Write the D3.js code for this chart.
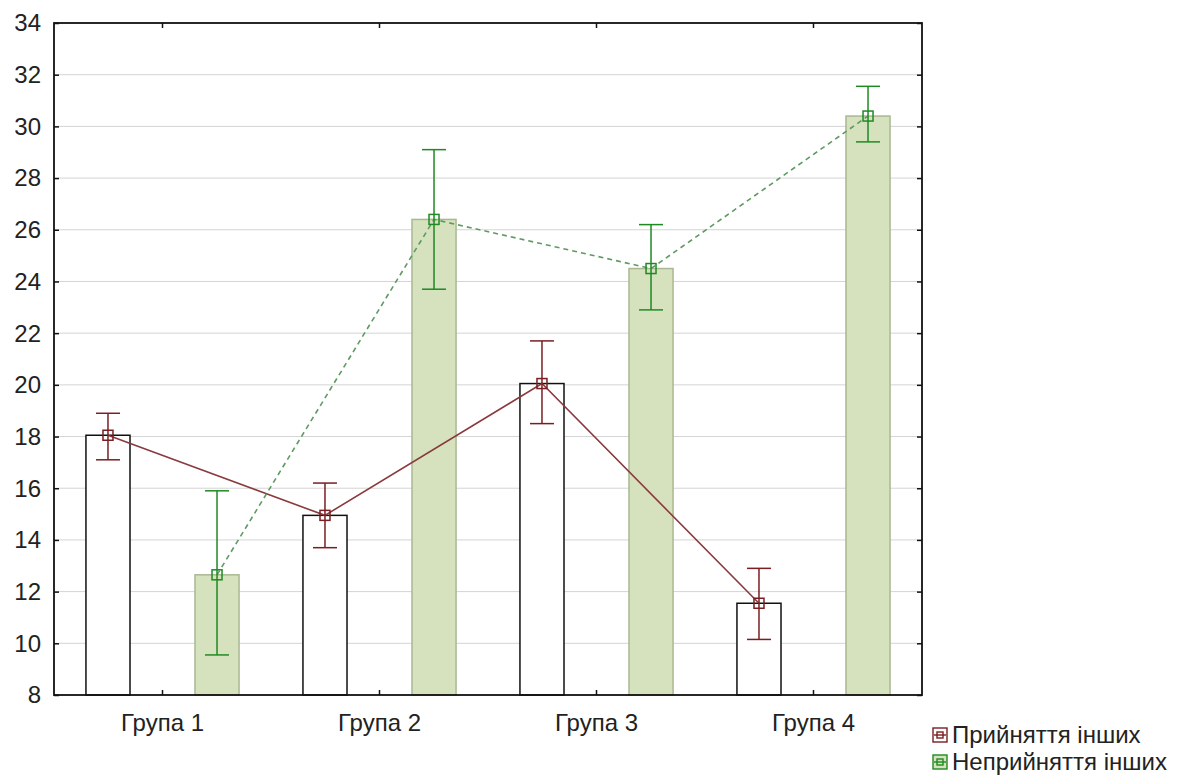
<!DOCTYPE html>
<html>
<head>
<meta charset="utf-8">
<script src="https://cdn.jsdelivr.net/npm/d3@7"></script>
<style>
  body { margin: 0; background: #fff; }
  svg { font-family: "Liberation Sans", Arial, sans-serif; }
</style>
</head>
<body>
<div id="chart"></div>
<script>
// data
const groups = ["Група 1", "Група 2", "Група 3", "Група 4"];
const seriesNames = ["Прийняття інших", "Неприйняття інших"];
const acceptMean = [18.05, 14.95, 20.05, 11.55];
const acceptHigh = [18.9, 16.2, 21.7, 12.9];
const acceptLow = [17.1, 13.7, 18.5, 10.15];
const rejectMean = [12.65, 26.4, 24.5, 30.4];
const rejectHigh = [15.9, 29.1, 26.2, 31.55];
const rejectLow = [9.55, 23.7, 22.9, 29.4];
const yTicks = [8, 10, 12, 14, 16, 18, 20, 22, 24, 26, 28, 30, 32, 34];

const W = 1196, H = 779;
const plot = { left: 54, top: 23, right: 922, bottom: 695 };

const svg = d3.select("#chart").append("svg")
  .attr("width", W).attr("height", H);

const x = d3.scaleBand().domain(groups).range([plot.left, plot.right]).padding(0);
const xi = d3.scaleBand().domain(seriesNames).range([0, x.bandwidth()])
  .paddingInner(0.596).paddingOuter(0.293);
const y = d3.scaleLinear().domain([8, 34]).range([plot.bottom, plot.top]);

const series = [
  { name: seriesNames[0], mean: acceptMean, hi: acceptHigh, lo: acceptLow,
    fill: "#ffffff", barStroke: "#111", line: "#8a3a3e", err: "#7a1e22", dash: null },
  { name: seriesNames[1], mean: rejectMean, hi: rejectHigh, lo: rejectLow,
    fill: "#d5e2bd", barStroke: "#a9b893", line: "#5e9a62", err: "#1f8a22", dash: "5 4" }
];

// gridlines
svg.append("g").selectAll("line")
  .data(yTicks.slice(1, -1))
  .join("line")
  .attr("x1", plot.left).attr("x2", plot.right)
  .attr("y1", d => y(d)).attr("y2", d => y(d))
  .attr("stroke", "#d4d4d4").attr("stroke-width", 1);

// bars
series.forEach(s => {
  svg.append("g").selectAll("rect")
    .data(groups)
    .join("rect")
    .attr("x", g => x(g) + xi(s.name))
    .attr("y", (g, i) => y(s.mean[i]))
    .attr("width", xi.bandwidth())
    .attr("height", (g, i) => y(8) - y(s.mean[i]))
    .attr("fill", s.fill)
    .attr("stroke", s.barStroke)
    .attr("stroke-width", 1.5);
});

const cx = (s, g) => x(g) + xi(s.name) + xi.bandwidth() / 2;

// lines through the means
series.forEach(s => {
  const line = d3.line()
    .x((d, i) => cx(s, groups[i]))
    .y(d => y(d));
  svg.append("path")
    .datum(s.mean)
    .attr("fill", "none")
    .attr("stroke", s.line)
    .attr("stroke-width", 1.6)
    .attr("stroke-dasharray", s.dash)
    .attr("d", line);
});

// error bars + markers
series.forEach(s => {
  const g = svg.append("g").attr("stroke", s.err).attr("stroke-width", 1.5).attr("fill", "none");
  groups.forEach((grp, i) => {
    const c = cx(s, grp);
    g.append("line").attr("x1", c).attr("x2", c).attr("y1", y(s.hi[i])).attr("y2", y(s.lo[i]));
    g.append("line").attr("x1", c - 12).attr("x2", c + 12).attr("y1", y(s.hi[i])).attr("y2", y(s.hi[i]));
    g.append("line").attr("x1", c - 12).attr("x2", c + 12).attr("y1", y(s.lo[i])).attr("y2", y(s.lo[i]));
    g.append("rect").attr("x", c - 5).attr("y", y(s.mean[i]) - 5)
      .attr("width", 10).attr("height", 10);
  });
});

// frame
svg.append("rect")
  .attr("x", plot.left).attr("y", plot.top)
  .attr("width", plot.right - plot.left).attr("height", plot.bottom - plot.top)
  .attr("fill", "none").attr("stroke", "#111").attr("stroke-width", 1.8);

// axes (inward ticks)
const yAxisL = svg.append("g")
  .attr("transform", `translate(${plot.left},0)`)
  .call(d3.axisRight(y).tickValues(yTicks).tickSize(5).tickFormat(""));
const yAxisR = svg.append("g")
  .attr("transform", `translate(${plot.right},0)`)
  .call(d3.axisLeft(y).tickValues(yTicks).tickSize(5).tickFormat(""));
const xAxisB = svg.append("g")
  .attr("transform", `translate(0,${plot.bottom})`)
  .call(d3.axisTop(x).tickSize(5).tickFormat(""));
const xAxisT = svg.append("g")
  .attr("transform", `translate(0,${plot.top})`)
  .call(d3.axisBottom(x).tickSize(5).tickFormat(""));
[yAxisL, yAxisR, xAxisB, xAxisT].forEach(a => {
  a.select(".domain").remove();
  a.selectAll("line").attr("stroke", "#111").attr("stroke-width", 1.5);
});

// tick labels
svg.append("g").selectAll("text")
  .data(yTicks)
  .join("text")
  .attr("x", plot.left - 13)
  .attr("y", d => y(d))
  .attr("dy", "0.35em")
  .attr("text-anchor", "end")
  .attr("font-size", 24)
  .attr("fill", "#222")
  .text(d => d);

svg.append("g").selectAll("text")
  .data(groups)
  .join("text")
  .attr("x", d => x(d) + x.bandwidth() / 2)
  .attr("y", plot.bottom + 36)
  .attr("text-anchor", "middle")
  .attr("font-size", 24)
  .attr("fill", "#222")
  .text(d => d);

// legend
const legend = svg.append("g").attr("transform", "translate(933,728)");
series.forEach((s, i) => {
  const row = legend.append("g").attr("transform", `translate(0,${i * 27})`);
  row.append("rect").attr("x", 0).attr("y", 0).attr("width", 14).attr("height", 14)
    .attr("fill", s.fill).attr("stroke", s.err).attr("stroke-width", 1.4);
  row.append("line").attr("x1", 1).attr("x2", 13).attr("y1", 7).attr("y2", 7)
    .attr("stroke", s.err).attr("stroke-width", 1.4);
  row.append("rect").attr("x", 4).attr("y", 4).attr("width", 6).attr("height", 6)
    .attr("fill", "none").attr("stroke", s.err).attr("stroke-width", 1.4);
  row.append("text").attr("x", 19).attr("y", 15)
    .attr("font-size", 24).attr("fill", "#222")
    .text(s.name);
});
</script>
</body>
</html>
